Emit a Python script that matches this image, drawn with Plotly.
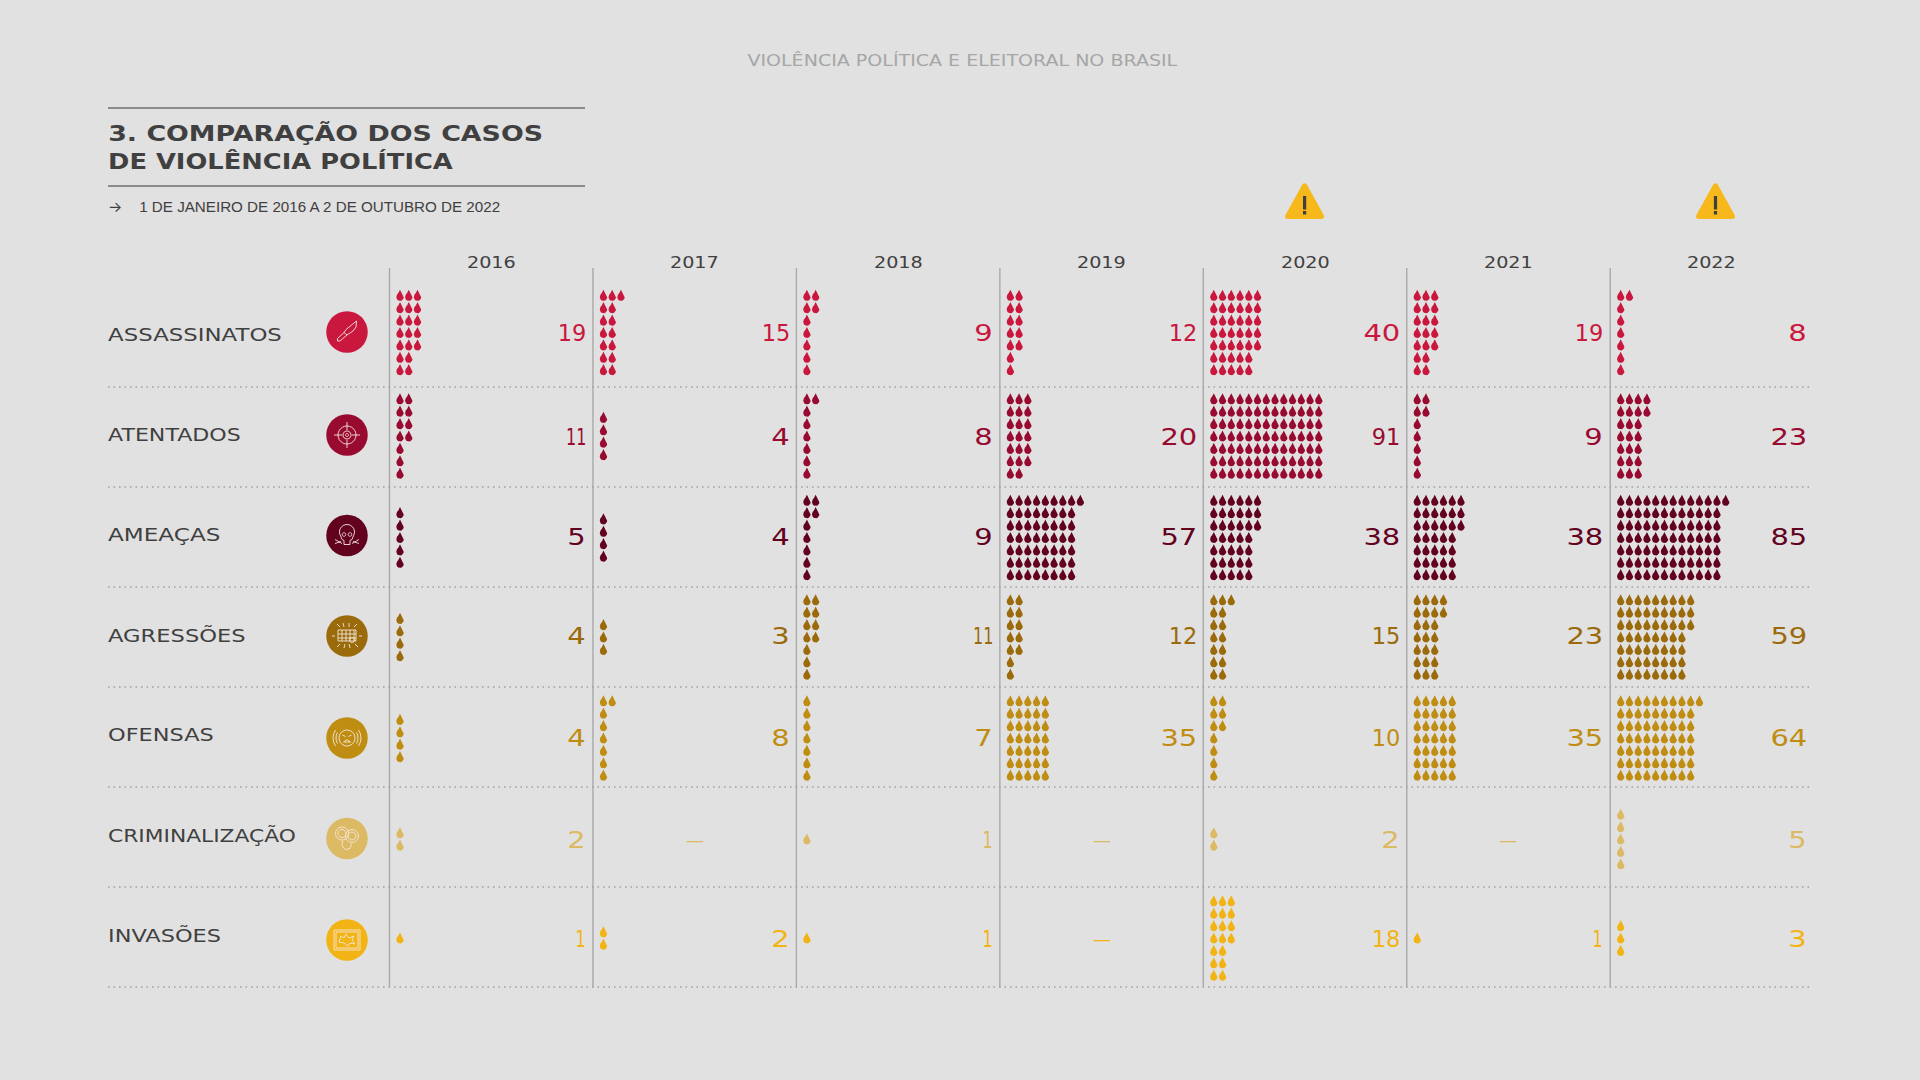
import json
import math
import plotly.graph_objects as go

# ---------- data ----------
YEARS = ["2016", "2017", "2018", "2019", "2020", "2021", "2022"]
CATEGORIES = ["ASSASSINATOS", "ATENTADOS", "AMEAÇAS", "AGRESSÕES", "OFENSAS", "CRIMINALIZAÇÃO", "INVASÕES"]
ASSASSINATOS = [19, 15, 9, 12, 40, 19, 8]
ATENTADOS = [11, 4, 8, 20, 91, 9, 23]
AMEACAS = [5, 4, 9, 57, 38, 38, 85]
AGRESSOES = [4, 3, 11, 12, 15, 23, 59]
OFENSAS = [4, 8, 7, 35, 10, 35, 64]
CRIMINALIZACAO = [2, 0, 1, 0, 2, 0, 5]
INVASOES = [1, 2, 1, 0, 18, 1, 3]
SERIES = [ASSASSINATOS, ATENTADOS, AMEACAS, AGRESSOES, OFENSAS, CRIMINALIZACAO, INVASOES]
COLORS = ["#c9173d", "#990a30", "#63021f", "#9a6a0b", "#c08d13", "#dcb963", "#f2b414"]
WARNING_CX = [1304.6, 1715.5]

# ---------- layout constants (pixels, axes map 1:1 to the page) ----------
BG = "#e1e1e1"
INK = "#404040"
COL_X0 = 389.5
COL_W = 203.45
ROW_LINES = [387, 487, 587, 687, 787, 887, 987]
DROP_CY = [332.5, 436, 537.5, 637, 738, 839, 938]
VALUE_Y = [333, 437, 537, 636, 738, 840, 939]
LABEL_Y = [335, 435, 535, 635, 735, 835, 935]
LABEL_STRETCH = [1.345, 1.30, 1.36, 1.33, 1.32, 1.28, 1.32]
ICON_CY = [332, 435, 535.5, 636, 738, 838.5, 940]
ICON_X = 347
PITCH_X, PITCH_Y = 8.75, 12.4
DROP_W, DROP_H = 7.4, 11.2
ROWS = 7

fig = go.Figure()
shapes, annotations, stretch = [], [], []


def add_text(x, y, text, anchor, size, color, family="DejaVu Sans", s=1.0, weight="normal"):
    annotations.append(dict(x=x, y=y, text=text, xanchor=anchor, yanchor="middle", showarrow=False,
                            xref="x", yref="y", borderpad=0, borderwidth=0,
                            font=dict(size=size, color=color, family=family, weight=weight)))
    stretch.append(s)


def drop_outline(cx, cy):
    """Teardrop polygon centred on (cx, cy)."""
    r = DROP_W / 2
    c_y = cy + DROP_H / 2 - r
    xs, ys = [cx], [cy - DROP_H / 2]
    xs.append(cx + r * 0.42); ys.append(cy - DROP_H / 2 + DROP_H * 0.28)
    xs.append(cx + r * 0.82); ys.append(cy - DROP_H / 2 + DROP_H * 0.44)
    for d in range(0, 181, 20):
        a = math.radians(d)
        xs.append(cx + r * math.cos(a)); ys.append(c_y + r * math.sin(a))
    xs.append(cx - r * 0.82); ys.append(cy - DROP_H / 2 + DROP_H * 0.44)
    xs.append(cx - r * 0.42); ys.append(cy - DROP_H / 2 + DROP_H * 0.28)
    xs.append(cx); ys.append(cy - DROP_H / 2)
    return xs, ys


def grid_positions(n, col_left, cy):
    """Columns fill row by row; the top rows take the remainder."""
    pts = []
    if n < ROWS:
        rows = [1] * n
    else:
        rows = [n // ROWS + (1 if i < n % ROWS else 0) for i in range(ROWS)]
    top = cy - (len(rows) - 1) * PITCH_Y / 2
    for ri, cnt in enumerate(rows):
        for c in range(cnt):
            pts.append((col_left + 10.5 + c * PITCH_X, top + ri * PITCH_Y))
    return pts


for ri, (cat, vals, col) in enumerate(zip(CATEGORIES, SERIES, COLORS)):
    X, Y = [], []
    for yi, v in enumerate(vals):
        left = COL_X0 + yi * COL_W
        for px, py in grid_positions(v, left, DROP_CY[ri]):
            xs, ys = drop_outline(px, py)
            X += xs + [None]
            Y += ys + [None]
        if v:
            t = str(v)
            # the reference's "1" is much narrower than its other digits
            s = 1.26 * (len(t) - 0.45 * t.count("1")) / len(t)
            add_text(left + COL_W - 6.8, VALUE_Y[ri], t, "right", 23, col, s=s)
        else:
            add_text(left + COL_W / 2, VALUE_Y[ri] - 1, "—", "center", 18, col)
    fig.add_trace(go.Scatter(x=X, y=Y, mode="lines", fill="toself", fillcolor=col,
                             line=dict(width=0, color=col), name=cat, hoverinfo="name"))

# row labels
for lab, y, s in zip(CATEGORIES, LABEL_Y, LABEL_STRETCH):
    add_text(108, y, lab, "left", 17, INK, s=s)

# icon discs
fig.add_trace(go.Scatter(x=[ICON_X] * 7, y=ICON_CY, mode="markers", hoverinfo="skip",
                         marker=dict(size=41.5, color=COLORS, line=dict(width=0))))

# ---------- grid ----------
for i in range(7):
    x = COL_X0 + i * COL_W
    shapes.append(dict(type="line", x0=x, x1=x, y0=268, y1=987, layer="below",
                       line=dict(color="#a9a9a9", width=1.4)))
    add_text(x + COL_W / 2, 262, YEARS[i], "center", 16, INK, s=1.2)
for y in ROW_LINES:
    shapes.append(dict(type="line", x0=108, x1=1812.5, y0=y, y1=y, layer="below",
                       line=dict(color="#a2a2a2", width=1.6, dash="1.6px,3.9px")))

# ---------- header ----------
for y in (108, 186):
    shapes.append(dict(type="line", x0=108, x1=585, y0=y, y1=y,
                       line=dict(color="#6e6e6e", width=1.5)))
add_text(962, 60, "VIOLÊNCIA POLÍTICA E ELEITORAL NO BRASIL", "center", 15, "#a6a6a6", s=1.27)
add_text(108, 133, "3. COMPARAÇÃO DOS CASOS", "left", 22, INK, s=1.22, weight="bold")
add_text(108, 161, "DE VIOLÊNCIA POLÍTICA", "left", 22, INK, s=1.17, weight="bold")
add_text(108, 206, "→", "left", 15, INK, family="Inter")
add_text(139, 206, "1 DE JANEIRO DE 2016 A 2 DE OUTUBRO DE 2022", "left", 15.5, INK,
         family="Liberation Sans", s=0.98)

# warning triangles
for cx in WARNING_CX:
    L, R, T, B = cx - 19.5, cx + 19.5, 183, 219
    p = (f"M{cx-2.2},{T+1.5} Q{cx},{T-0.8} {cx+2.2},{T+1.5} L{R-0.4},{B-4} Q{R+1.2},{B} {R-3.5},{B} "
         f"L{L+3.5},{B} Q{L-1.2},{B} {L+0.4},{B-4} Z")
    shapes.append(dict(type="path", path=p, fillcolor="#f6b81a", line=dict(width=0)))
    shapes.append(dict(type="rect", x0=cx - 1.6, x1=cx + 1.6, y0=196, y1=209.5,
                       fillcolor="#3f3f3f", line=dict(width=0)))
    shapes.append(dict(type="rect", x0=cx - 1.6, x1=cx + 1.6, y0=211, y1=214.5,
                       fillcolor="#3f3f3f", line=dict(width=0)))


# ---------- icon glyphs (thin line drawings in local pixels around each disc) ----------
def poly(pts, close=False):
    s = "M" + " L".join(f"{x:.2f},{y:.2f}" for x, y in pts)
    return s + (" Z" if close else "")


def circ(cx, cy, r, a0=0, a1=360, step=15):
    n = max(2, int(abs(a1 - a0) / step))
    return [(cx + r * math.cos(math.radians(a0 + (a1 - a0) * k / n)),
             cy + r * math.sin(math.radians(a0 + (a1 - a0) * k / n))) for k in range(n + 1)]


GLYPHS = [
    # knife
    [[(9.5, -11), (-1, -2.5), (-3, 0.5), (0, 3), (6, -1), (9, -5), (9.5, -11)],
     [(-3, 0.5), (-9.5, 6.5), (-9.5, 9), (-7, 9), (0, 3)]],
    # target
    [circ(0, 0, 9), circ(0, 0, 4), circ(0, 0, 1.5),
     [(0, -13), (0, -5)], [(0, 5), (0, 13)], [(-13, 0), (-5, 0)], [(5, 0), (13, 0)]],
    # skull with bones
    [circ(0, -3.5, 7.5, 150, 390), [(-6.5, 0), (-5, 4), (-3, 5), (-3, 9), (3, 9), (3, 5), (5, 4), (6.5, 0)],
     circ(-3, -1, 1.8), circ(3, -1, 1.8), [(-12, 4), (-5, 8)], [(-12, 8), (-6, 6)], [(12, 4), (5, 8)], [(12, 8), (6, 6)]],
    # struck grid with rays
    [[(-9, -6), (9, -6), (9, 5), (-9, 5), (-9, -6)], [(-9, -2), (9, -2)], [(-9, 2), (9, 2)],
     [(-5, -6), (-5, 5)], [(-1, -6), (-1, 5)], [(3, -6), (3, 5)], [(7, -6), (7, 5)], circ(5, 4, 2.6),
     [(-7, -9), (-10, -12)], [(-3, -9), (-4, -13)], [(2, -9), (2, -13)], [(7, -9), (10, -12)],
     [(-7, 8), (-10, 11)], [(-2, 8), (-3, 12)], [(2, 8), (3, 12)], [(8, 8), (11, 11)],
     [(-12, 0), (-15, 0)], [(12, 0), (15, 0)]],
    # angry face with sound waves
    [circ(0, 0, 8), [(-4.5, -3), (-1.5, -1.5)], [(4.5, -3), (1.5, -1.5)], [(-3.5, 4), (0, 1.5), (3.5, 4), (-3.5, 4)],
     circ(0, 0, 11, 150, 210), circ(0, 0, 14, 145, 215), circ(0, 0, 11, -30, 30), circ(0, 0, 14, -35, 35)],
    # handcuffs
    [circ(-5, -5, 6.5), circ(-5, -5, 4), circ(5, -2.5, 6.5), circ(5, -2.5, 4),
     [(-4.5, 2), (-5, 7), (-2, 11), (3, 10), (4.5, 5)]],
    # framed burst
    [[(-13, -10), (13, -10), (13, 10), (-13, 10), (-13, -10)], [(-11, -8), (11, -8), (11, 8), (-11, 8), (-11, -8)],
     [(-8, 2), (-6, -4), (-3, -2), (-1, -6), (2, -2), (7, -4), (5, 0), (8, 4), (3, 3), (1, 6), (-3, 3), (-8, 2)]],
]
for cy, parts in zip(ICON_CY, GLYPHS):
    path = " ".join(poly([(ICON_X + x, cy + y) for x, y in p]) for p in parts)
    shapes.append(dict(type="path", path=path, line=dict(color="#f4e6dc", width=0.9), layer="above"))

fig.update_layout(
    width=1920, height=1080, margin=dict(l=0, r=0, t=0, b=0),
    paper_bgcolor=BG, plot_bgcolor=BG, showlegend=False,
    xaxis=dict(range=[0, 1920], visible=False, fixedrange=True),
    yaxis=dict(range=[1080, 0], visible=False, fixedrange=True),
    shapes=shapes, annotations=annotations,
)

# The reference uses an extended typeface: widen each text horizontally about its anchor edge.
POST = """
document.body.style.margin='0';document.body.style.overflow='hidden';
var S=%s, A=%s;
document.querySelectorAll('.annotation').forEach(function(g){
  var i=+g.getAttribute('data-index'), t=g.querySelector('text');
  if(!t||S[i]===1)return;
  var b=t.getBBox(), a=A[i]==='left'?b.x:(A[i]==='right'?b.x+b.width:b.x+b.width/2);
  t.setAttribute('transform','translate('+a+',0) scale('+S[i]+',1) translate('+(-a)+',0)');
});
""" % (json.dumps(stretch), json.dumps([a["xanchor"] for a in annotations]))
fig.write_html("out.html", post_script=POST, config={"displayModeBar": False})
